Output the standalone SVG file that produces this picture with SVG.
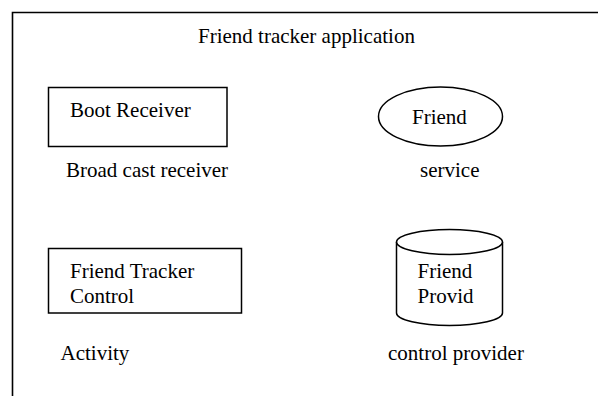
<svg xmlns="http://www.w3.org/2000/svg" width="598" height="396" viewBox="0 0 598 396">
  <style>
    .shape { fill: #ffffff; stroke: #000000; stroke-width: 1.5; }
    .frame { fill: none; stroke: #000000; stroke-width: 1.6; }
    text { font-family: "Liberation Serif", "Times New Roman", serif; font-size: 21px; fill: #000000; }
  </style>
  <rect width="598" height="396" fill="#ffffff"/>

  <!-- application frame (open at right and bottom) -->
  <g id="app-frame">
    <path class="frame" d="M12.5,396 V12.5 H598"/>
    <text x="198" y="43">Friend tracker application</text>
  </g>

  <g id="boot-receiver">
    <rect class="shape" x="48.5" y="87.5" width="178.5" height="59"/>
    <text x="70" y="117">Boot Receiver</text>
    <text x="66" y="177">Broad cast receiver</text>
  </g>

  <g id="friend-service">
    <ellipse class="shape" cx="440.5" cy="116.5" rx="62" ry="29.5"/>
    <text x="412" y="124">Friend</text>
    <text x="420" y="177">service</text>
  </g>

  <g id="friend-tracker-control">
    <rect class="shape" x="48.5" y="248.5" width="193" height="64.5"/>
    <text x="70" y="278">Friend Tracker</text>
    <text x="70" y="303">Control</text>
    <text x="60.5" y="360">Activity</text>
  </g>

  <g id="friend-provider">
    <path class="shape" d="M396.5,242 V313 A53,12.5 0 0 0 502.5,313 V242"/>
    <ellipse class="shape" cx="449.5" cy="242" rx="53" ry="12.5"/>
    <text x="417.5" y="278">Friend</text>
    <text x="417.5" y="303">Provid</text>
    <text x="388" y="360">control provider</text>
  </g>

  <g id="connectors"/>
</svg>
